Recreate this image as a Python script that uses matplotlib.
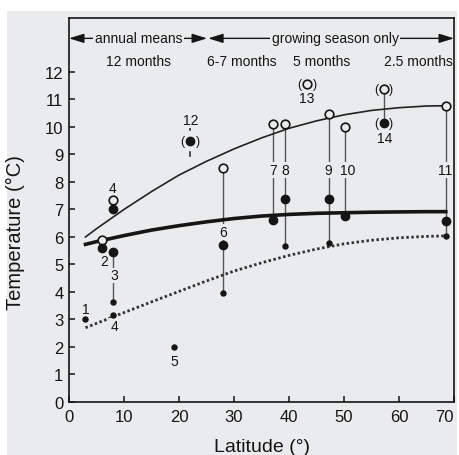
import numpy as np
import matplotlib
matplotlib.use("Agg")
import matplotlib.pyplot as plt
from matplotlib.patches import Rectangle

plt.rcParams['font.family'] = ['Liberation Sans', 'DejaVu Sans']

# ---------------- data ----------------
site_labels = ['1', '2', '3', '4', '4', '5', '6', '7', '8', '9', '10', '11', '12', '13', '14']
site_lat    = [3, 6, 8, 8, 8, 19, 28, 37, 39.2, 47.2, 50.2, 68.5, 22, 43.3, 57.2]
open_vals   = [np.nan, 5.9, np.nan, 7.35, np.nan, np.nan, 8.5, 10.1, 10.1, 10.47, 9.98, 10.77, np.nan, 11.55, 11.38]
mean_vals   = [np.nan, 5.6, 5.45, 7.0, np.nan, np.nan, 5.7, 6.6, 7.37, 7.37, 6.76, 6.58, 9.5, np.nan, 10.16]
min_vals    = [3.0, np.nan, 3.63, np.nan, 3.17, 1.99, 3.97, np.nan, 5.66, 5.77, np.nan, 6.04, np.nan, np.nan, np.nan]
has_stem    = [False, False, True, False, False, False, True, True, True, True, True, True, False, False, True]
label_y     = [3.39, 5.14, 4.6, 7.78, 2.78, 1.5, 6.18, 8.43, 8.43, 8.43, 8.43, 8.43, 10.25, 11.04, 9.6]
label_x     = [3.1, 6.4, 8.2, 8.0, 8.2, 19.1, 28.05, 37.1, 39.3, 47.2, 50.7, 68.4, 22.1, 43.3, 57.4]
bracketed_open = [13, 14]
bracketed_mean = [12, 14]

curve_x      = [3, 5, 10, 15, 20, 25, 30, 35, 40, 45, 50, 55, 60, 65, 68.5]
upper_curve  = [6.0, 6.3, 7.0, 7.65, 8.25, 8.75, 9.2, 9.6, 9.95, 10.22, 10.44, 10.6, 10.7, 10.76, 10.77]
mean_curve   = [5.73, 5.83, 6.05, 6.25, 6.41, 6.55, 6.67, 6.76, 6.82, 6.86, 6.88, 6.9, 6.91, 6.92, 6.92]
lower_curve  = [2.70, 2.86, 3.25, 3.64, 4.02, 4.40, 4.76, 5.06, 5.33, 5.56, 5.75, 5.88, 5.97, 6.02, 6.04]

period_labels = ['12 months', '6-7 months', '5 months', '2.5 months']
period_x      = [12.7, 31.5, 46.0, 63.5]
range_labels  = ['annual means', 'growing season only']
range_bounds  = [(0, 25.1), (25.3, 70)]
range_text_x  = [12.7, 48.4]

xticks = [0, 10, 20, 30, 40, 50, 60, 70]
yticks = list(range(0, 13))

# ---------------- figure ----------------
BG = '#eaebec'
INK = '#151515'
fig = plt.figure(figsize=(4.6, 4.56), dpi=100, facecolor='white')
fig.patches.append(Rectangle((7/460, 0), (457-7)/460, (456-12)/456,
                             transform=fig.transFigure, facecolor=BG,
                             edgecolor='none', zorder=-10))
ax = fig.add_axes([69/460, 53/456, 385/460, 384/456])
ax.set_facecolor('none')
ax.set_xlim(0, 70)
ax.set_ylim(0, 13.96)

# curves
ax.plot(curve_x, upper_curve, color='#222222', lw=1.2, zorder=2)
ax.plot(curve_x, mean_curve, color='#151515', lw=2.6, zorder=2)
ax.plot(curve_x, lower_curve, color='#333333', lw=2.0, ls=(0, (0.9, 0.9)), zorder=2)

# stems
for i, s in enumerate(has_stem):
    if s:
        vals = [v for v in (open_vals[i], mean_vals[i], min_vals[i]) if not np.isnan(v)]
        ax.plot([site_lat[i], site_lat[i]], [min(vals), max(vals)],
                color='#555555', lw=1.0, zorder=1)

# site 12 short bars
ax.plot([22, 22], [9.9, 10.05], color='#333333', lw=1.2, zorder=1)
ax.plot([22, 22], [8.95, 9.1], color='#333333', lw=1.2, zorder=1)

# markers
ax.plot(site_lat, open_vals, 'o', ms=6.2, mfc=BG, mec=INK, mew=1.2, ls='none', zorder=4)
ax.plot(site_lat, mean_vals, 'o', ms=6.0, mfc=INK, mec=INK, ls='none', zorder=4)
ax.plot(site_lat, min_vals, 'o', ms=3.6, mfc=INK, mec=INK, ls='none', zorder=4)

# brackets
for idx, vals in ((bracketed_open, open_vals), (bracketed_mean, mean_vals)):
    for lab in idx:
        i = site_labels.index(str(lab))
        for dx, ch in ((-5.5, '('), (5.5, ')')):
            ax.annotate(ch, (site_lat[i], vals[i]), xytext=(dx, 0),
                        textcoords='offset points', ha='center', va='center',
                        fontsize=9, color=INK, zorder=5)

# site labels
for lab, x, y in zip(site_labels, label_x, label_y):
    ax.text(x, y, lab, ha='center', va='center', fontsize=10, color=INK, zorder=3,
            bbox=dict(facecolor=BG, edgecolor='none', pad=0.6))

# range arrows
for (x0, x1), lab, tx in zip(range_bounds, range_labels, range_text_x):
    ax.annotate('', xy=(x0, 13.22), xytext=(x1, 13.22),
                arrowprops=dict(arrowstyle='<|-|>,head_length=0.9,head_width=0.28',
                                mutation_scale=10, color=INK, lw=1.0,
                                shrinkA=0, shrinkB=0), annotation_clip=False)
    ax.text(tx, 13.22, lab, ha='center', va='center', fontsize=10, color=INK,
            bbox=dict(facecolor=BG, edgecolor='none', pad=1.2), zorder=5)

for lab, x in zip(period_labels, period_x):
    ax.text(x, 12.38, lab, ha='center', va='center', fontsize=10, color=INK)

# axes styling
ax.set_xticks(xticks)
ax.set_yticks(yticks)
ax.tick_params(direction='in', length=4, width=1.1, colors=INK, labelsize=12, pad=4)
ax.tick_params(axis='x', pad=5)
lbls = ax.get_xticklabels()
lbls[-1].set_horizontalalignment('right')
lbls[-1].set_x(70)
for sp in ax.spines.values():
    sp.set_color(INK)
    sp.set_linewidth(1.2)
ax.set_xlabel('Latitude (°)', fontsize=14, color=INK)
ax.set_ylabel('Temperature (°C)', fontsize=14.5, color=INK)
ax.xaxis.set_label_coords(0.5, -0.095)
ax.yaxis.set_label_coords(-0.115, 0.443)

fig.savefig('out.png', dpi=100, facecolor='white')
